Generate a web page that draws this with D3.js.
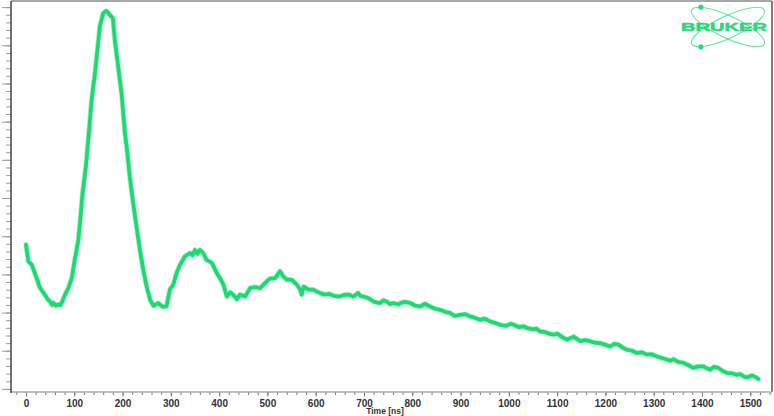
<!DOCTYPE html>
<html><head><meta charset="utf-8">
<script src="https://cdn.jsdelivr.net/npm/d3@7/dist/d3.min.js"></script>
<style>body{margin:0;background:#fff}svg{display:block}</style>
</head><body>
<script>
// ---- data ----
const timeNs = [0,5,12,22,29,39,45,50,54,57,62,67,71,74,81,88,95,101,108,112,117,124,129,136,143,148,153,160,166,170,174,180,184,191,198,205,210,215,222,229,236,243,250,257,264,270,274,279,284,291,298,305,312,319,329,340,345,350,355,360,367,374,385,395,402,409,416,423,429,437,443,454,464,474,485,495,505,516,526,533,540,550,561,568,571,575,585,595,609,619,628,637,650,658,668,678,688,693,699,709,720,727,733,740,747,754,761,771,775,785,796,806,816,826,837,847,858,868,878,888,899,909,920,930,940,950,961,971,982,995,1004,1010,1020,1030,1037,1050,1057,1064,1075,1085,1092,1100,1110,1120,1127,1134,1141,1148,1158,1168,1178,1189,1199,1210,1218,1227,1235,1244,1255,1265,1275,1286,1296,1307,1317,1327,1334,1341,1350,1362,1372,1382,1392,1403,1410,1417,1425,1434,1443,1452,1462,1472,1479,1486,1493,1503,1510,1517];
const intensity = [37.8,33.4,32.5,29.1,26.5,24.7,23.5,22.9,22.0,22.5,21.8,22.1,21.9,22.6,24.7,26.5,29.1,33.8,38.6,43.5,51.0,58.2,65.2,75.7,82.8,88.8,94.9,98.4,99.0,98.6,97.9,97.1,91.4,84.4,77.4,67.0,61.8,55.6,48.7,42.5,36.4,31.2,26.8,23.4,21.8,22.2,22.5,21.9,21.5,21.6,26.0,27.3,30.4,32.5,34.7,35.6,35.0,36.4,35.4,36.4,35.6,33.8,33.0,30.4,29.0,27.3,24.2,25.3,24.7,23.5,24.7,24.2,26.4,26.7,26.4,27.7,28.9,29.0,30.8,29.5,28.6,28.6,27.3,26.0,24.7,26.8,26.0,26.0,25.1,24.7,24.9,24.4,24.2,24.6,24.7,24.2,25.1,24.3,24.2,23.8,22.9,22.6,22.5,23.2,22.9,22.2,22.5,22.1,22.5,22.8,22.5,21.8,21.6,22.3,21.6,21.0,20.7,20.2,19.9,19.1,19.4,19.6,19.0,18.6,18.1,18.4,17.7,17.3,16.8,16.5,17.1,16.8,16.2,16.4,16.0,15.6,15.8,15.1,14.9,14.4,14.2,14.5,13.6,12.9,13.3,13.7,13.1,12.5,12.8,12.5,12.1,12.0,11.6,11.1,11.8,11.6,10.9,10.3,10.0,9.4,9.6,9.0,9.1,8.5,8.1,7.7,7.4,7.8,7.1,6.8,6.2,5.5,5.9,5.9,5.4,5.0,5.8,5.5,4.7,4.2,4.1,3.7,3.9,3.3,3.0,3.5,3.2,2.6];
const xMajorTicks = d3.range(0, 1501, 100);
const xMinorTicks = d3.range(-20, 1541, 20);
const yMajorTicks = d3.range(0, 101, 10);
const yMinorTicks = d3.range(0, 102, 2);
const xTitle = "Time [ns]";
const logoText = "BRUKER";

// ---- layout ----
const W = 774, H = 416;
const L = 11, R = 772, T = 1, B = 392;
const svg = d3.select("body").append("svg").attr("width", W).attr("height", H);

const x = d3.scaleLinear().domain([-31, 1545]).range([L, R]);
const y = d3.scaleLinear().domain([-0.8, 101.6]).range([B, T]);

// frame
svg.append("line").attr("x1", L).attr("x2", R).attr("y1", T).attr("y2", T).attr("stroke", "#8a8a8a").attr("stroke-width", 1.5);
svg.append("line").attr("x1", R).attr("x2", R).attr("y1", T).attr("y2", B).attr("stroke", "#555").attr("stroke-width", 1.5);

// x axis
const gxMinor = svg.append("g").attr("transform", `translate(0,${B})`)
  .call(d3.axisBottom(x).tickValues(xMinorTicks).tickSize(3).tickFormat(""));
const gx = svg.append("g").attr("transform", `translate(0,${B})`)
  .call(d3.axisBottom(x).tickValues(xMajorTicks).tickSize(4.5).tickPadding(3).tickFormat(d3.format("d")));
[gxMinor, gx].forEach(g => { g.select(".domain").remove(); g.selectAll("line").attr("stroke", "#777"); });
svg.append("line").attr("x1", L).attr("x2", R).attr("y1", B).attr("y2", B).attr("stroke", "#aaa").attr("stroke-width", 1.5);
gx.selectAll("text").attr("font-family", "Liberation Sans, Arial, sans-serif").attr("font-size", 10)
  .attr("font-weight", "bold").attr("fill", "#333");
svg.append("text").attr("x", 385).attr("y", 414).attr("text-anchor", "middle")
  .attr("font-family", "Liberation Sans, Arial, sans-serif").attr("font-size", 8.5).attr("font-weight", "bold")
  .attr("fill", "#333").text(xTitle);

// y axis
const gyMinor = svg.append("g").attr("transform", `translate(${L},0)`)
  .call(d3.axisLeft(y).tickValues(yMinorTicks).tickSize(5).tickFormat(""));
const gy = svg.append("g").attr("transform", `translate(${L},0)`)
  .call(d3.axisLeft(y).tickValues(yMajorTicks).tickSize(9).tickFormat(""));
[gyMinor, gy].forEach(g => { g.select(".domain").remove(); g.selectAll("line").attr("stroke", "#999"); });
svg.append("line").attr("x1", L).attr("x2", L).attr("y1", T).attr("y2", B + 1).attr("stroke", "#444").attr("stroke-width", 1.5);

// curve
const pts = timeNs.map((t, i) => [t, intensity[i]]);
const line = d3.line().x(d => x(d[0])).y(d => y(d[1]));
svg.append("path").datum(pts).attr("d", line).attr("fill", "none")
  .attr("stroke", "#b8f5d2").attr("stroke-width", 5.5).attr("stroke-linejoin", "round").attr("stroke-linecap", "round");
svg.append("path").datum(pts).attr("d", line).attr("fill", "none")
  .attr("stroke", "#1ed972").attr("stroke-width", 3.8).attr("stroke-linejoin", "round").attr("stroke-linecap", "round");

// logo
const logo = svg.append("g").attr("transform", "translate(728,27)");
[25, -25].forEach(a => {
  const g = logo.append("g").attr("transform", `rotate(${a})`);
  g.append("ellipse").attr("rx", 40).attr("ry", 11).attr("fill", "none").attr("stroke", "#5fe39a").attr("stroke-width", 1.1);
  g.append("circle").attr("cx", -33).attr("cy", a > 0 ? -6.5 : 6.5).attr("r", 2.6).attr("fill", "#2bd67b");
});
logo.append("text").attr("x", -4).attr("y", 3.5).attr("text-anchor", "middle")
  .attr("font-family", "Liberation Sans, Arial, sans-serif").attr("font-weight", "bold").attr("font-size", 10.5)
  .attr("textLength", 86).attr("lengthAdjust", "spacingAndGlyphs")
  .attr("fill", "#2bd67b").attr("stroke", "#2bd67b").attr("stroke-width", 0.4).text(logoText);
</script>
</body></html>
